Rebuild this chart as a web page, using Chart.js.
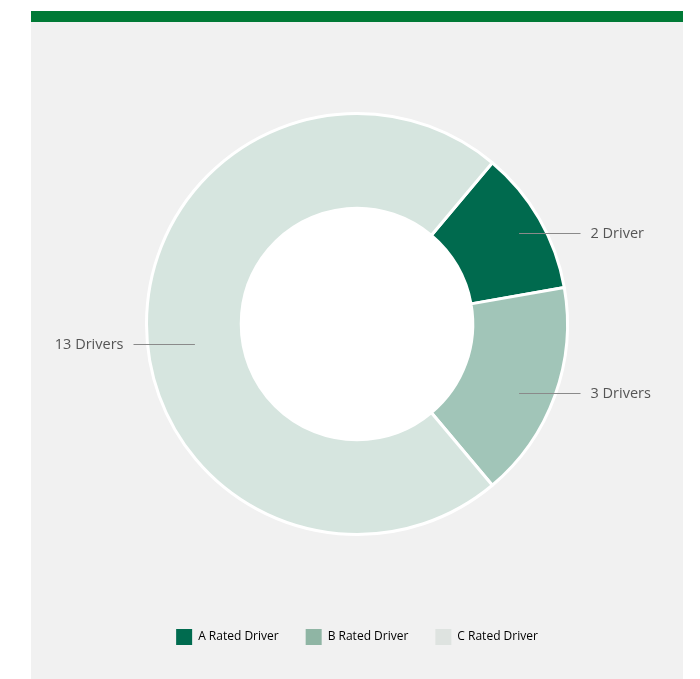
<!DOCTYPE html>
<html>
<head>
<meta charset="utf-8">
<script src="https://cdn.jsdelivr.net/npm/chart.js@4"></script>
<style>
  html, body { margin: 0; padding: 0; background: #ffffff; }
  #panel {
    position: absolute; left: 31px; top: 11px; width: 652px; height: 668px;
    background: #f1f1f1; border-top: 11px solid #007a36; box-sizing: border-box;
  }
  #wrap { position: absolute; left: 0; top: 0; width: 652px; height: 657px; }
</style>
</head>
<body>
<div id="panel"><div id="wrap"><canvas id="c"></canvas></div></div>
<script>
const categories = ['A Rated Driver', 'B Rated Driver', 'C Rated Driver'];
const driverCounts = [2, 3, 13];
const sliceLabels = ['2 Driver', '3 Drivers', '13 Drivers'];
const sliceColors = ['#006a4e', '#a1c5b8', '#d6e5df'];
const legendColors = ['#006b4f', '#8fb5a4', '#dee3e0'];

const calloutPlugin = {
  id: 'callouts',
  beforeDatasetsDraw(chart) {
    const meta = chart.getDatasetMeta(0);
    const a = meta.data[0];
    if (!a) return;
    const ctx = chart.ctx;
    ctx.save();
    ctx.fillStyle = '#ffffff';
    ctx.beginPath();
    ctx.arc(a.x, a.y, a.innerRadius, 0, Math.PI * 2);
    ctx.fill();
    ctx.restore();
  },
  afterDatasetsDraw(chart, args, opts) {
    const meta = chart.getDatasetMeta(0);
    const ctx = chart.ctx;
    ctx.save();
    ctx.font = '14.5px "Open Sans", sans-serif';
    ctx.textBaseline = 'middle';
    meta.data.forEach((arc, i) => {
      const m = (arc.startAngle + arc.endAngle) / 2;
      const R = arc.outerRadius;
      const dir = Math.cos(m) >= 0 ? 1 : -1;
      const y = Math.round(arc.y + Math.sin(m) * R * 0.86 + (opts.offsets[i] || 0)) + 0.5;
      const x0 = arc.x + dir * R * 0.77;
      const x1 = arc.x + dir * (R + 13);
      ctx.strokeStyle = '#8a8a8a';
      ctx.lineWidth = 1.2;
      ctx.beginPath();
      ctx.moveTo(x0, y);
      ctx.lineTo(x1, y);
      ctx.stroke();
      ctx.fillStyle = '#555555';
      ctx.textAlign = dir > 0 ? 'left' : 'right';
      ctx.fillText(sliceLabels[i], x1 + dir * 10, y);
    });
    ctx.restore();
  }
};

new Chart(document.getElementById('c'), {
  type: 'doughnut',
  data: {
    labels: categories,
    datasets: [{
      data: driverCounts,
      backgroundColor: sliceColors,
      borderColor: '#ffffff',
      borderWidth: 3,
      hoverOffset: 0
    }]
  },
  plugins: [calloutPlugin],
  options: {
    responsive: true,
    maintainAspectRatio: false,
    animation: false,
    rotation: 40,
    cutout: '55%',
    layout: { padding: { top: 24, bottom: 24, left: 114, right: 114 } },
    plugins: {
      tooltip: { enabled: false },
      callouts: { offsets: [0, 7, 20] },
      legend: {
        position: 'bottom',
        labels: {
          boxWidth: 16,
          boxHeight: 16,
          padding: 27,
          color: '#444444',
          font: { family: '"Open Sans", sans-serif', size: 12 },
          generateLabels(chart) {
            return categories.map((t, i) => ({
              text: t,
              fillStyle: legendColors[i],
              strokeStyle: legendColors[i],
              lineWidth: 0,
              hidden: false,
              index: i
            }));
          }
        }
      }
    }
  }
});
</script>
</body>
</html>
